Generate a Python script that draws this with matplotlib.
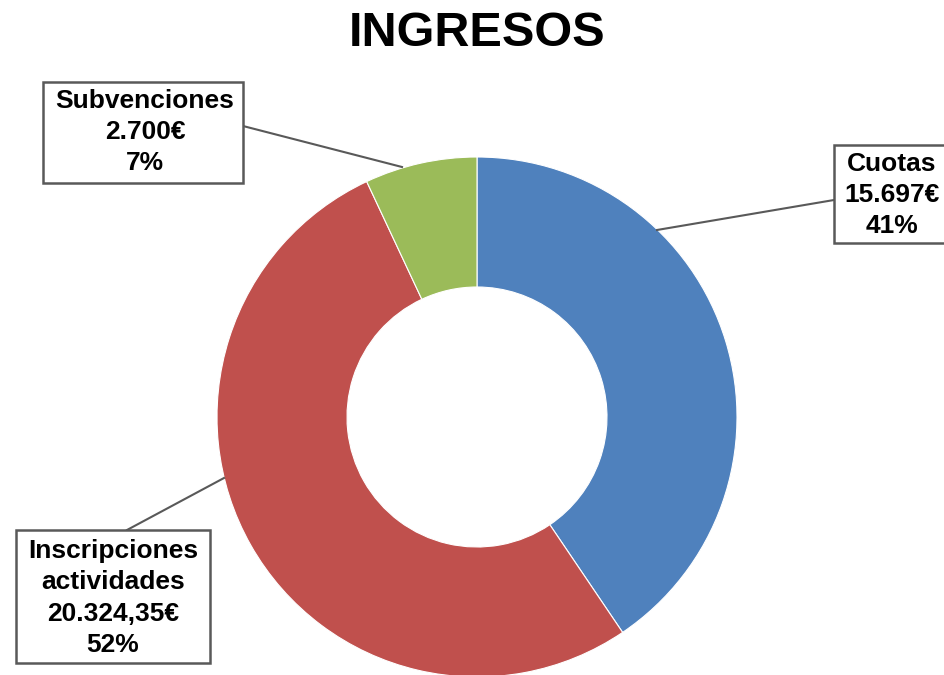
import matplotlib.pyplot as plt
from matplotlib.patches import Rectangle

plt.rcParams['font.family'] = ['Liberation Sans', 'DejaVu Sans']

# data
categorias = ['Cuotas', 'Inscripciones\nactividades', 'Subvenciones']
importes = [15697, 20324.35, 2700]
textos_importe = ['15.697€', '20.324,35€', '2.700€']
porcentajes = ['41%', '52%', '7%']
colores = ['#4F81BD', '#C0504D', '#9BBB59']

W, H = 945, 675
cx, cy, R = 477, 417, 260


def px(x, y):
    # pixel (from top-left) -> data units around pie centre
    return (x - cx) / R, (cy - y) / R


fig = plt.figure(figsize=(W / 100, H / 100), dpi=100)
ax = fig.add_axes([0, 0, 1, 1])
ax.pie(importes, colors=colores, startangle=90, counterclock=False,
       radius=1, wedgeprops=dict(width=0.5, edgecolor='white', linewidth=0.8))
ax.set_xlim(-cx / R, (W - cx) / R)
ax.set_ylim(-(H - cy) / R, cy / R)
ax.set_aspect('equal')
ax.axis('off')

# label layout: text centre, box (x0, y0, x1, y1), line start, line end
posiciones = [((892, 195), (834, 145, 965, 243), (834, 200), (657, 230)),
              ((113, 598), (16, 530, 210, 663), (127, 530), (224, 478)),
              ((145, 132), (43, 82, 243, 183), (243, 126), (402, 167))]

for cat, imp, pct, (txt, box, p0, p1) in zip(categorias, textos_importe, porcentajes, posiciones):
    x0, y0 = px(*p0)
    x1, y1 = px(*p1)
    ax.plot([x0, x1], [y0, y1], color='#595959', lw=1.5, zorder=1)
    bx0, by0 = px(box[0], box[3])
    bx1, by1 = px(box[2], box[1])
    ax.add_patch(Rectangle((bx0, by0), bx1 - bx0, by1 - by0, fc='white',
                           ec='#595959', lw=1.8, zorder=2, clip_on=True))
    tx, ty = px(*txt)
    ax.text(tx, ty, f'{cat}\n{imp}\n{pct}', ha='center', va='center',
            fontsize=19, fontweight='bold', linespacing=1.38, zorder=3)

fig.text(477 / W, 1 - 33 / H, 'INGRESOS', ha='center', va='center',
         fontsize=35, fontweight='bold')

fig.savefig('out.png', dpi=100)
